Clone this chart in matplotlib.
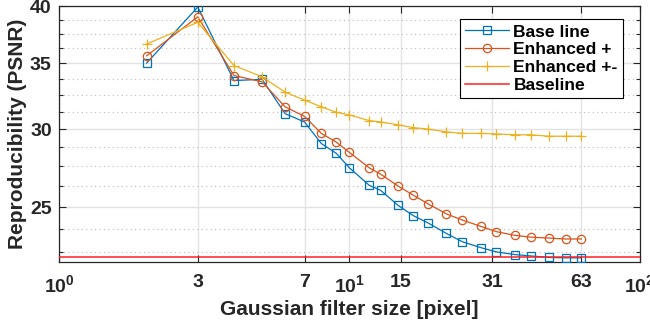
import matplotlib
matplotlib.use("Agg")
import matplotlib.pyplot as plt
from matplotlib.ticker import FixedLocator, NullLocator, NullFormatter

plt.rcParams['font.family'] = ['Liberation Sans', 'DejaVu Sans']
plt.rcParams['font.weight'] = 'bold'
plt.rcParams['mathtext.fontset'] = 'custom'
plt.rcParams['mathtext.rm'] = 'Liberation Sans'
plt.rcParams['mathtext.bf'] = 'Liberation Sans:bold'

# ---- data ----
filter_sizes = [2, 3, 4, 5, 6, 7, 8, 9, 10, 11.7, 12.8, 14.7, 16.6, 18.6, 21.6,
                24.5, 28.3, 32.1, 37.1, 42.1, 48.7, 55.6, 63]
base_line = [35.0, 39.9, 33.6, 33.7, 31.1, 30.5, 29.0, 28.35, 27.4, 26.3, 26.0,
             25.1, 24.5, 24.1, 23.5, 23.05, 22.74, 22.51, 22.37, 22.3, 22.22,
             22.2, 22.2]
enhanced_plus = [35.6, 39.0, 34.0, 33.5, 31.6, 30.9, 29.7, 29.1, 28.4, 27.4, 27.0,
                 26.26, 25.7, 25.2, 24.6, 24.25, 23.9, 23.6, 23.4, 23.3, 23.25,
                 23.2, 23.2]
enhanced_pm = [36.6, 38.5, 34.8, 33.9, 32.7, 32.1, 31.6, 31.2, 31.0, 30.6, 30.5,
               30.3, 30.1, 30.0, 29.8, 29.7, 29.7, 29.66, 29.6, 29.6, 29.5,
               29.5, 29.5]
baseline_value = 22.25

x_ticks = [1, 3, 7, 10, 15, 31, 63, 100]
x_ticklabels = [r'$\mathbf{10^{0}}$', '3', '7', r'$\mathbf{10^{1}}$', '15', '31', '63',
                r'$\mathbf{10^{2}}$']
y_ticks = [25, 30, 35, 40]
y_minor = [22.5, 23.75, 26.25, 27.5, 28.75, 31.25, 32.5, 33.75, 36.25, 37.5, 38.75]

blue = '#0072BD'
orange = '#D95319'
yellow = '#EDB120'
red = '#FF2020'

fig = plt.figure(figsize=(6.5, 3.28), dpi=100)
ax = fig.add_axes([59.3 / 650, 1 - 261.7 / 328, (639.6 - 59.3) / 650, (261.7 - 6) / 328])
ax.set_xscale('log')
ax.set_yscale('log')
ax.set_xlim(1, 100)
ax.set_ylim(22, 40)

lw = 0.9
ms_kw = dict(fillstyle='none', markeredgewidth=0.9)
ax.plot(filter_sizes, base_line, color=blue, lw=lw, marker='s', markersize=5.2,
        label='Base line', zorder=3, **ms_kw)
ax.plot(filter_sizes, enhanced_plus, color=orange, lw=lw, marker='o', markersize=6,
        label='Enhanced +', zorder=3, **ms_kw)
ax.plot(filter_sizes, enhanced_pm, color=yellow, lw=lw, marker='+', markersize=7,
        label='Enhanced +-', zorder=3, **ms_kw)
ax.plot([1, 100], [baseline_value, baseline_value], color=red, lw=1.1,
        label='Baseline', zorder=3)

ax.xaxis.set_major_locator(FixedLocator(x_ticks))
ax.set_xticklabels(x_ticklabels)
ax.xaxis.set_minor_locator(NullLocator())
ax.xaxis.set_minor_formatter(NullFormatter())
ax.yaxis.set_major_locator(FixedLocator(y_ticks))
ax.set_yticklabels([str(v) for v in y_ticks])
ax.yaxis.set_minor_locator(FixedLocator(y_minor))
ax.yaxis.set_minor_formatter(NullFormatter())

ax.grid(True, which='major', axis='both', color='#e3e3e3', lw=1.0, ls='-', zorder=0)
ax.grid(True, which='minor', axis='y', color='#bcbcbc', lw=0.8, ls=(0, (1, 3)), zorder=0)
ax.set_axisbelow(True)

for s in ax.spines.values():
    s.set_color('#262626')
    s.set_linewidth(0.9)
ax.tick_params(which='both', direction='in', top=True, right=True, colors='#262626',
               labelsize=14, width=0.8)
ax.tick_params(which='major', length=5)
ax.tick_params(which='minor', length=3)
ax.tick_params(axis='x', pad=9)
ax.tick_params(axis='y', pad=5.5)
for t in ax.get_xticklabels() + ax.get_yticklabels():
    t.set_fontweight('bold')
    t.set_color('#262626')

ax.set_xlabel('Gaussian filter size [pixel]', fontsize=15, fontweight='bold',
              color='#262626', labelpad=3)
ax.set_ylabel('Reproducibility (PSNR)', fontsize=15, fontweight='bold',
              color='#262626', labelpad=2)

leg = ax.legend(loc='upper right', bbox_to_anchor=(0.9714, 0.949), borderaxespad=0,
                fancybox=False, framealpha=1, edgecolor='black',
                prop={'weight': 'bold', 'size': 12.6}, handlelength=2.5,
                labelspacing=0.14, borderpad=0.3, handletextpad=0.25)
leg.get_frame().set_linewidth(0.8)

fig.savefig('out.png', dpi=100)
